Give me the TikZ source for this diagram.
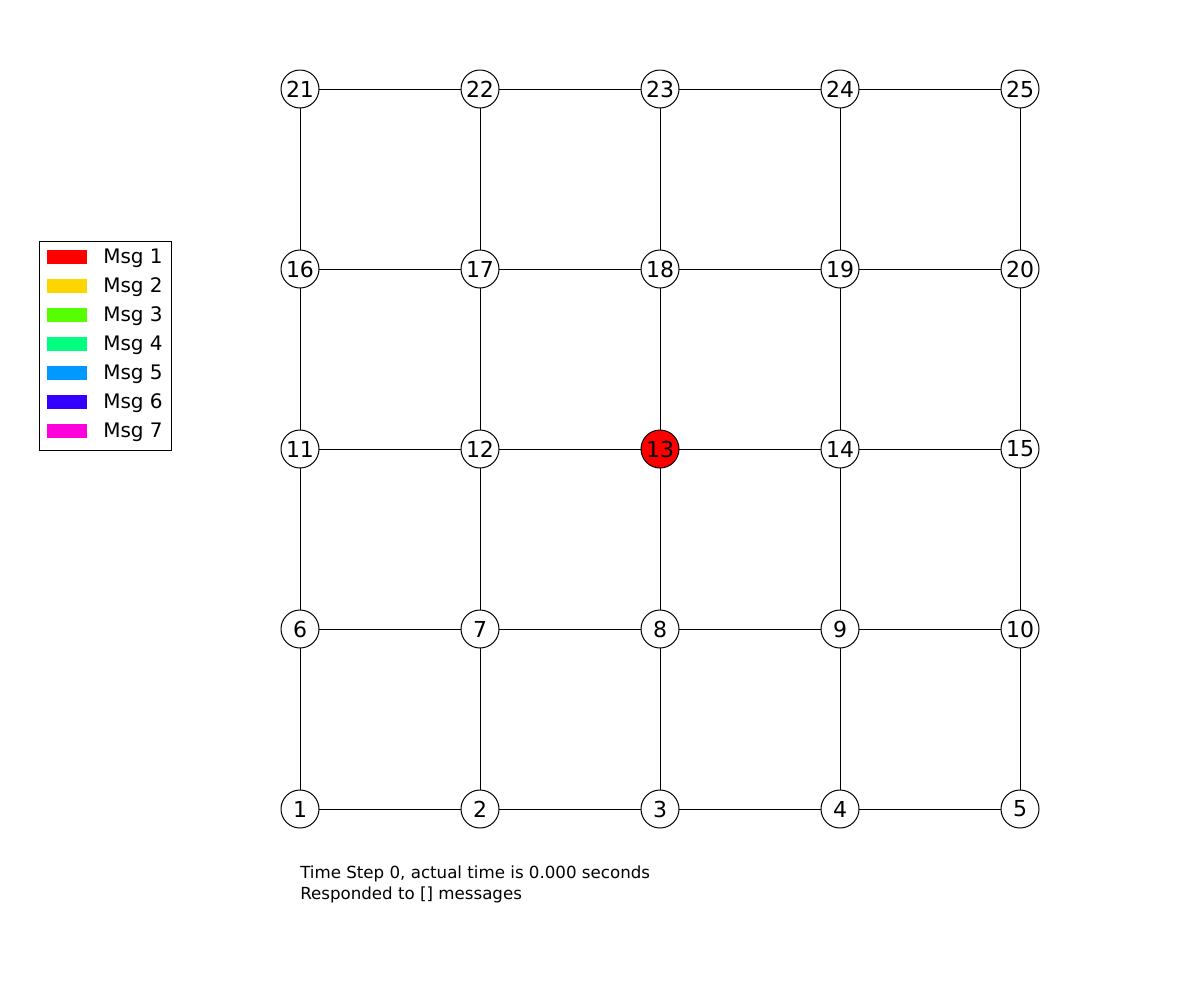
\documentclass[tikz,border=0pt]{standalone}
\usepackage{fontspec}
\setmainfont{DejaVu Sans}
\definecolor{m1}{RGB}{255,0,0}
\definecolor{m2}{RGB}{255,213,0}
\definecolor{m3}{RGB}{85,255,0}
\definecolor{m4}{RGB}{0,255,128}
\definecolor{m5}{RGB}{0,153,255}
\definecolor{m6}{RGB}{51,0,255}
\definecolor{m7}{RGB}{255,0,220}
\begin{document}
\begin{tikzpicture}[x=0.75pt,y=-0.75pt,
  vtx/.style={circle,draw=black,line width=0.75pt,fill=white,minimum size=28.5pt,inner sep=0pt,font=\fontsize{16.5}{18}\selectfont},
  edge/.style={line width=0.75pt},
  patch/.style={minimum width=30pt,minimum height=10pt,inner sep=0pt},
  legtext/.style={anchor=west,inner sep=0pt,font=\fontsize{15}{17}\selectfont}]
\useasboundingbox (0,0) rectangle (1200,1000);
\foreach \r in {0,...,4}{
  \foreach \c in {0,...,4}{
    \pgfmathtruncatemacro{\n}{\r*5+\c+1}
    \coordinate (p\n) at ({300+180*\c},{809-180*\r});
  }
}
\foreach \r in {0,...,4}{
  \foreach \c in {0,...,3}{
    \pgfmathtruncatemacro{\a}{\r*5+\c+1}
    \pgfmathtruncatemacro{\b}{\a+1}
    \draw[edge] (p\a) -- (p\b);
  }
}
\foreach \r in {0,...,3}{
  \foreach \c in {0,...,4}{
    \pgfmathtruncatemacro{\a}{\r*5+\c+1}
    \pgfmathtruncatemacro{\b}{\a+5}
    \draw[edge] (p\a) -- (p\b);
  }
}
\foreach \n in {1,...,25}{
  \ifnum\n=13
    \node[vtx,fill=m1] (v\n) at (p\n) {\n};
  \else
    \node[vtx] (v\n) at (p\n) {\n};
  \fi
}
% legend
\node[draw=black,line width=0.75pt,minimum width=99pt,minimum height=156.75pt,inner sep=0pt] (legend) at (105,345.5) {};
\foreach \i in {1,...,7}{
  \node[patch,fill=m\i] (pa\i) at (67,{257+29*(\i-1)}) {};
  \node[legtext] (lt\i) at (103,{258+29*(\i-1)}) {Msg \i};
}
\node[anchor=north west,inner sep=0pt,align=left,font=\fontsize{12.5}{15.75}\selectfont] (info) at (300,866) {Time Step 0, actual time is 0.000 seconds\\Responded to [] messages};
\end{tikzpicture}
\end{document}
